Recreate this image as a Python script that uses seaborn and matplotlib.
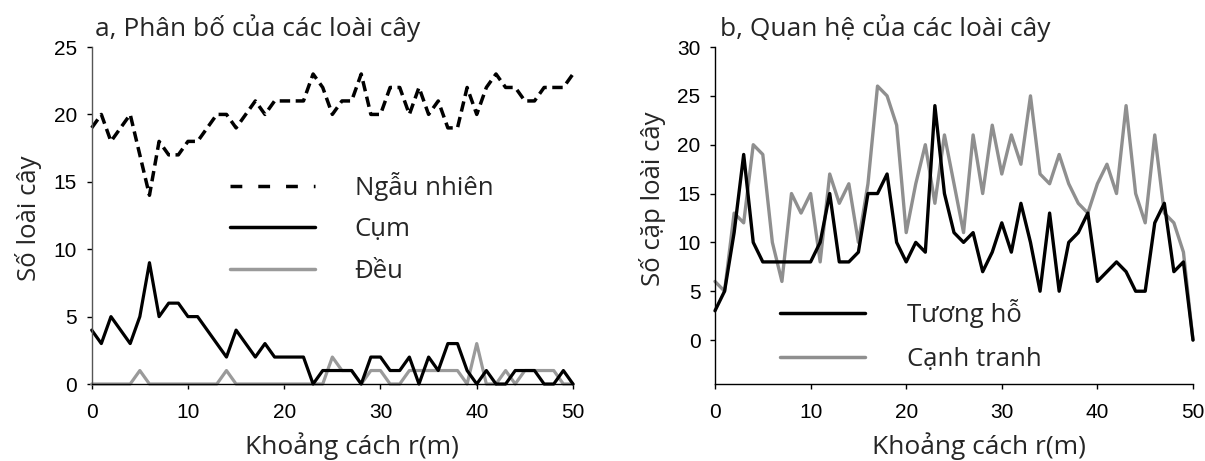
import matplotlib
matplotlib.use("Agg")
import matplotlib.pyplot as plt
import seaborn as sns
import pandas as pd
from matplotlib.lines import Line2D

# ---------------- data ----------------
distance = list(range(51))

ngau_nhien = [19, 20, 18, 19, 20, 17, 14, 18, 17, 17,
              18, 18, 19, 20, 20, 19, 20, 21, 20, 21,
              21, 21, 21, 23, 22, 20, 21, 21, 23, 20,
              20, 22, 22, 20, 22, 20, 21, 19, 19, 22,
              20, 22, 23, 22, 22, 21, 21, 22, 22, 22, 23]
cum = [4, 3, 5, 4, 3, 5, 9, 5, 6, 6,
       5, 5, 4, 3, 2, 4, 3, 2, 3, 2,
       2, 2, 2, 0, 1, 1, 1, 1, 0, 2,
       2, 1, 1, 2, 0, 2, 1, 3, 3, 1,
       0, 1, 0, 0, 1, 1, 1, 0, 0, 1, 0]
deu = [0, 0, 0, 0, 0, 1, 0, 0, 0, 0,
       0, 0, 0, 0, 1, 0, 0, 0, 0, 0,
       0, 0, 0, 0, 0, 2, 1, 1, 0, 1,
       1, 0, 0, 1, 1, 1, 1, 1, 1, 0,
       3, 0, 0, 1, 0, 1, 1, 1, 1, 0, 0]

tuong_ho = [3, 5, 11, 19, 10, 8, 8, 8, 8, 8,
            8, 10, 15, 8, 8, 9, 15, 15, 17, 10,
            8, 10, 9, 24, 15, 11, 10, 11, 7, 9,
            12, 9, 14, 10, 5, 13, 5, 10, 11, 13,
            6, 7, 8, 7, 5, 5, 12, 14, 7, 8, 0]
canh_tranh = [6, 5, 13, 12, 20, 19, 10, 6, 15, 13,
              15, 8, 17, 14, 16, 10, 16, 26, 25, 22,
              11, 16, 20, 14, 21, 16, 11, 21, 15, 22,
              17, 21, 18, 25, 17, 16, 19, 16, 14, 13,
              16, 18, 15, 24, 15, 12, 21, 13, 12, 9, 0]

xticks = [0, 10, 20, 30, 40, 50]
yticks_a = [0, 5, 10, 15, 20, 25]
yticks_b = [0, 5, 10, 15, 20, 25, 30]

title_a = "a, Phân bố của các loài cây"
title_b = "b, Quan hệ của các loài cây"
ylabel_a = "Số loài cây"
ylabel_b = "Số cặp loài cây"
xlabel = "Khoảng cách r(m)"
labels_a = ["Ngẫu nhiên", "Cụm", "Đều"]
labels_b = ["Tương hỗ", "Cạnh tranh"]

# ---------------- style ----------------
sns.set_theme(style="white")
plt.rcParams['font.family'] = ['Liberation Sans', 'DejaVu Sans']
TEXT_FONT = ['Open Sans', 'DejaVu Sans']
GREY_A = '#9a9a9a'
GREY_B = '#8f8f8f'
DASH = (0, (3.0, 1.6))
FS_TEXT = 18.5

fig = plt.figure(figsize=(12.05, 4.61), dpi=100)
ax_a = fig.add_axes([91.7 / 1205, 0.167, (573 - 91.7) / 1205, 0.731])
ax_b = fig.add_axes([715 / 1205, 0.167, (1193 - 715) / 1205, 0.731])

df_a = pd.DataFrame({'r': distance, 'nn': ngau_nhien, 'cum': cum, 'deu': deu})
df_b = pd.DataFrame({'r': distance, 'th': tuong_ho, 'ct': canh_tranh})

# panel a
sns.lineplot(data=df_a, x='r', y='deu', ax=ax_a, color=GREY_A, lw=2.3,
             errorbar=None, clip_on=False, legend=False)
sns.lineplot(data=df_a, x='r', y='cum', ax=ax_a, color='black', lw=2.3,
             errorbar=None, clip_on=False, legend=False)
sns.lineplot(data=df_a, x='r', y='nn', ax=ax_a, color='black', lw=2.5,
             linestyle=DASH, errorbar=None, clip_on=False, legend=False)

# panel b
sns.lineplot(data=df_b, x='r', y='ct', ax=ax_b, color=GREY_B, lw=2.4,
             errorbar=None, clip_on=False, legend=False)
sns.lineplot(data=df_b, x='r', y='th', ax=ax_b, color='black', lw=2.4,
             errorbar=None, clip_on=False, legend=False)

for ax, yt, ylim in [(ax_a, yticks_a, (0, 25)), (ax_b, yticks_b, (-4.5, 30))]:
    ax.set_xlim(0, 50)
    ax.set_ylim(*ylim)
    ax.set_xticks(xticks)
    ax.set_yticks(yt)
    ax.set_xlabel('')
    ax.set_ylabel('')
    for s in ['top', 'right']:
        ax.spines[s].set_visible(False)
    for s in ['left', 'bottom']:
        ax.spines[s].set_color('black')
        ax.spines[s].set_linewidth(1.0)
    ax.tick_params(axis='both', which='major', direction='out', length=3.5,
                   width=1.0, color='black', labelsize=15, labelcolor='black',
                   bottom=True, left=True)
    ax.tick_params(axis='x', pad=10)
    ax.tick_params(axis='y', pad=7)
ax_a.spines['left'].set_color('#555555')

# legends
h_a = [Line2D([], [], color='black', lw=2.5, linestyle=(0, (3.4, 4.6))),
       Line2D([], [], color='black', lw=2.5),
       Line2D([], [], color=GREY_A, lw=2.5)]
ax_a.legend(h_a, labels_a, loc='upper left',
            bbox_to_anchor=(230 / 1205, 1 - 172 / 461),
            bbox_transform=fig.transFigure, frameon=False,
            prop={'family': TEXT_FONT, 'size': FS_TEXT},
            handlelength=3.3, handletextpad=1.55, labelspacing=0.64,
            borderpad=0, borderaxespad=0)
h_b = [Line2D([], [], color='black', lw=2.5),
       Line2D([], [], color=GREY_B, lw=2.5)]
ax_b.legend(h_b, labels_b, loc='upper left',
            bbox_to_anchor=(780 / 1205, 1 - 299 / 461),
            bbox_transform=fig.transFigure, frameon=False,
            prop={'family': TEXT_FONT, 'size': FS_TEXT},
            handlelength=3.3, handletextpad=1.63, labelspacing=0.72,
            borderpad=0, borderaxespad=0)

# titles / labels
fig.text(95 / 1205, 1 - 36 / 461, title_a, family=TEXT_FONT, fontsize=19,
         ha='left', va='baseline')
fig.text(720 / 1205, 1 - 36 / 461, title_b, family=TEXT_FONT, fontsize=19,
         ha='left', va='baseline')
fig.text(28 / 1205, 1 - 218 / 461, ylabel_a, family=TEXT_FONT, fontsize=FS_TEXT,
         rotation=90, ha='center', va='center')
fig.text(652 / 1205, 1 - 199 / 461, ylabel_b, family=TEXT_FONT, fontsize=FS_TEXT,
         rotation=90, ha='center', va='center')
fig.text(352 / 1205, 1 - 454 / 461, xlabel, family=TEXT_FONT, fontsize=19,
         ha='center', va='baseline')
fig.text(979 / 1205, 1 - 454 / 461, xlabel, family=TEXT_FONT, fontsize=19,
         ha='center', va='baseline')

fig.savefig('out.png', dpi=100)
